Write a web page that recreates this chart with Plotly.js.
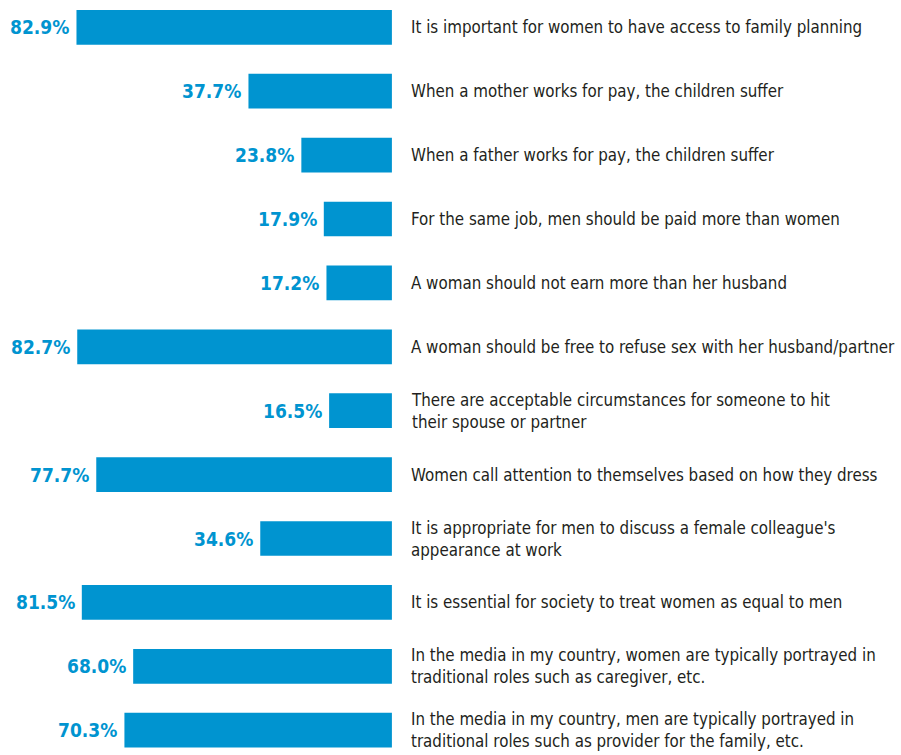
<!DOCTYPE html>
<html>
<head>
<meta charset="utf-8">
<script src="https://cdn.plot.ly/plotly-3.0.1.min.js"></script>
<style>
html,body{margin:0;padding:0;background:#fff;}
#chart{width:901px;height:755px;}
#chart svg text{font-stretch:condensed;}
</style>
</head>
<body>
<div id="chart"></div>
<script>
// Data
const statements = [
  "It is important for women to have access to family planning",
  "When a mother works for pay, the children suffer",
  "When a father works for pay, the children suffer",
  "For the same job, men should be paid more than women",
  "A woman should not earn more than her husband",
  "A woman should be free to refuse sex with her husband/partner",
  "There are acceptable circumstances for someone to hit<br>their spouse or partner",
  "Women call attention to themselves based on how they dress",
  "It is appropriate for men to discuss a female colleague's<br>appearance at work",
  "It is essential for society to treat women as equal to men",
  "In the media in my country, women are typically portrayed in<br>traditional roles such as caregiver, etc.",
  "In the media in my country, men are typically portrayed in<br>traditional roles such as provider for the family, etc."
];
const agreePct = [82.9, 37.7, 23.8, 17.9, 17.2, 82.7, 16.5, 77.7, 34.6, 81.5, 68.0, 70.3];
const pctLabels = ["82.9%", "37.7%", "23.8%", "17.9%", "17.2%", "82.7%", "16.5%", "77.7%", "34.6%", "81.5%", "68.0%", "70.3%"];

const idx = statements.map((_, i) => i);
const blue = "#0094d0";
const dark = "#231f20";
const fam = "'DejaVu Sans Condensed', 'DejaVu Sans', sans-serif";

const trace = {
  type: "bar",
  orientation: "h",
  x: agreePct,
  y: idx,
  width: 0.543,
  marker: { color: blue, line: { width: 0 } },
  hoverinfo: "skip"
};

const annotations = [];
idx.forEach(i => {
  annotations.push({
    x: agreePct[i], y: i, xref: "x", yref: "y",
    text: pctLabels[i], showarrow: false,
    xanchor: "right", yanchor: "middle", xshift: -5,
    font: { family: fam, size: 19, color: blue, weight: "bold" }
  });
  annotations.push({
    x: 0, y: i, xref: "x", yref: "y",
    text: statements[i], showarrow: false, align: "left",
    xanchor: "left", yanchor: "middle", xshift: 17,
    font: { family: fam, size: 16.8, color: dark }
  });
});

const layout = {
  width: 901, height: 755,
  margin: { l: 0, r: 0, t: 0, b: 0, pad: 0 },
  paper_bgcolor: "#fff", plot_bgcolor: "#fff",
  showlegend: false,
  xaxis: { range: [103.0, -133.8], autorange: false, visible: false, fixedrange: true },
  yaxis: { range: [11.388, -0.427], autorange: false, visible: false, fixedrange: true },
  annotations: annotations
};

Plotly.newPlot("chart", [trace], layout, { staticPlot: true, displayModeBar: false });
</script>
</body>
</html>
